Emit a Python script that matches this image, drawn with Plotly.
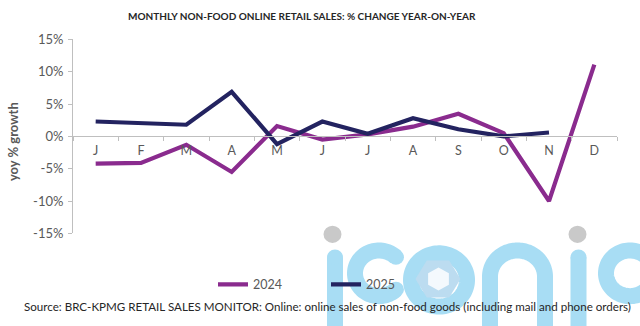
import numpy as np
import plotly.graph_objects as go

# ---- data -------------------------------------------------------------
months = ["J", "F", "M", "A", "M", "J", "J", "A", "S", "O", "N", "D"]
sales_2024 = [-4.2, -4.1, -1.3, -5.5, 1.6, -0.5, 0.3, 1.5, 3.5, 0.5, -10.0, 11.1]
sales_2025 = [2.3, 2.0, 1.8, 6.9, -1.2, 2.3, 0.4, 2.8, 1.1, 0.0, 0.6]
y_ticks = [-15, -10, -5, 0, 5, 10, 15]

W, H = 640, 326
COL_2024 = "#8a2b8e"
COL_2025 = "#232360"
AXIS_GREY = "#bfbfbf"
TEXT_GREY = "#595959"
FONT = "Lato"

x_idx = list(range(len(months)))

fig = go.Figure()
fig.add_trace(go.Scatter(x=x_idx[:len(sales_2024)], y=sales_2024, mode="lines",
                         name="2024", line=dict(color=COL_2024, width=4.2)))
fig.add_trace(go.Scatter(x=x_idx[:len(sales_2025)], y=sales_2025, mode="lines",
                         name="2025", line=dict(color=COL_2025, width=4.2)))


# ---- helpers for pixel-based decoration -------------------------------
def px(x):
    return x / W


def py(y):
    return (H - y) / H


def path_of(points, close=False):
    s = "M" + "L".join(f"{px(x):.5f},{py(y):.5f}" for x, y in points)
    return s + ("Z" if close else "")


def arc(cx, cy, r, a0, a1, n=80):
    t = np.radians(np.linspace(a0, a1, n))
    return list(zip(cx + r * np.cos(t), cy - r * np.sin(t)))


def circle(cx, cy, r, color):
    return dict(type="circle", xref="paper", yref="paper",
                x0=px(cx - r), x1=px(cx + r), y0=py(cy + r), y1=py(cy - r),
                fillcolor=color, line=dict(width=0), layer="below")


# ---- "iconic" logo mark -----------------------------------------------
LOGO_BLUE = "#a8ddf4"
LOGO_GREY = "#c9c9c9"
STROKE = 16
shapes = []


def stroke(points, close=False):
    shapes.append(dict(type="path", xref="paper", yref="paper",
                       path=path_of(points, close),
                       line=dict(color=LOGO_BLUE, width=STROKE), layer="below"))


def cap(x, y):
    shapes.append(circle(x, y, STROKE / 2, LOGO_BLUE))


# i
stroke([(335, 262), (335, 345)])
cap(335, 262)
shapes.append(circle(332.5, 238, 9, LOGO_GREY))
# c
pts = arc(379, 279, 24, 45, 315)
stroke(pts)
cap(*pts[0]); cap(*pts[-1])
# o with hexagon
stroke(arc(439, 286, 28, 0, 360, 120), close=True)
hex_out = arc(438, 285, 22.5, 0, 360, 7)[:-1]
shapes.append(dict(type="path", xref="paper", yref="paper", path=path_of(hex_out, True),
                   fillcolor="#bcdcf0", line=dict(width=0), layer="below"))
hex_in = arc(438.5, 285, 12, 30, 390, 7)[:-1]
shapes.append(dict(type="path", xref="paper", yref="paper", path=path_of(hex_in, True),
                   fillcolor="#f4f9fd", line=dict(width=0), layer="below"))
# n
stroke([(490, 345), (490, 282.5)] + arc(517.5, 282.5, 27.5, 180, 0) + [(545, 345)])
# i
stroke([(578.5, 262), (578.5, 345)])
cap(578.5, 262)
shapes.append(circle(577.5, 238, 9, LOGO_GREY))
# c
pts = arc(630, 279, 24, 40, 320)
stroke(pts)
cap(*pts[0]); cap(*pts[-1])

# ---- annotations ------------------------------------------------------
annotations = [
    dict(text="<b>MONTHLY NON-FOOD ONLINE RETAIL SALES: % CHANGE YEAR-ON-YEAR</b>",
         x=px(302), y=py(8), xref="paper", yref="paper", showarrow=False,
         xanchor="center", yanchor="middle",
         font=dict(family=FONT, size=10, color="#262626")),
    dict(text="<b>yoy % growth</b>", x=px(13), y=py(141), xref="paper", yref="paper",
         showarrow=False, textangle=-90, xanchor="center", yanchor="middle",
         font=dict(family=FONT, size=13, color=TEXT_GREY)),
    dict(text="Source: BRC-KPMG RETAIL SALES MONITOR: Online: online sales of non-food goods "
              "(including mail and phone orders)",
         x=px(327.5), y=py(314), xref="paper", yref="paper", showarrow=False,
         xanchor="center", yanchor="middle",
         font=dict(family=FONT, size=11.6, color="#262626")),
]

y_top, y_bot = py(33), py(237)
zero_pos = py(135)

fig.update_layout(
    width=W, height=H,
    margin=dict(l=0, r=0, t=0, b=0),
    paper_bgcolor="white", plot_bgcolor="rgba(0,0,0,0)",
    font=dict(family=FONT, color=TEXT_GREY),
    showlegend=True,
    legend=dict(orientation="h", x=px(213), y=py(291), xanchor="left", yanchor="middle",
                font=dict(family=FONT, size=12.5, color=TEXT_GREY),
                bgcolor="rgba(0,0,0,0)", entrywidth=68, entrywidthmode="pixels",
                itemwidth=30),
    xaxis=dict(domain=[px(73), px(617)], range=[-0.5, len(months) - 0.5],
               anchor="free", position=zero_pos,
               showgrid=False, zeroline=False,
               showline=True, linecolor=AXIS_GREY, linewidth=1,
               tickmode="array", tickvals=x_idx, ticktext=months, ticks="",
               ticklabelstandoff=3,
               tickfont=dict(family=FONT, size=12.5, color=TEXT_GREY),
               minor=dict(tickmode="array",
                          tickvals=[i - 0.5 for i in range(len(months) + 1)],
                          ticks="outside", ticklen=4, tickcolor=AXIS_GREY, showgrid=False),
               fixedrange=True),
    yaxis=dict(domain=[y_bot, y_top], range=[-15, 15],
               tickmode="array", tickvals=y_ticks,
               ticktext=[f"{v}%" for v in y_ticks],
               showgrid=False, zeroline=False,
               showline=True, linecolor=AXIS_GREY, linewidth=1,
               ticks="outside", ticklen=4, tickcolor=AXIS_GREY,
               ticklabelstandoff=2,
               tickfont=dict(family=FONT, size=13, color=TEXT_GREY),
               fixedrange=True),
    shapes=shapes,
    annotations=annotations,
)

fig.write_html("out.html")
